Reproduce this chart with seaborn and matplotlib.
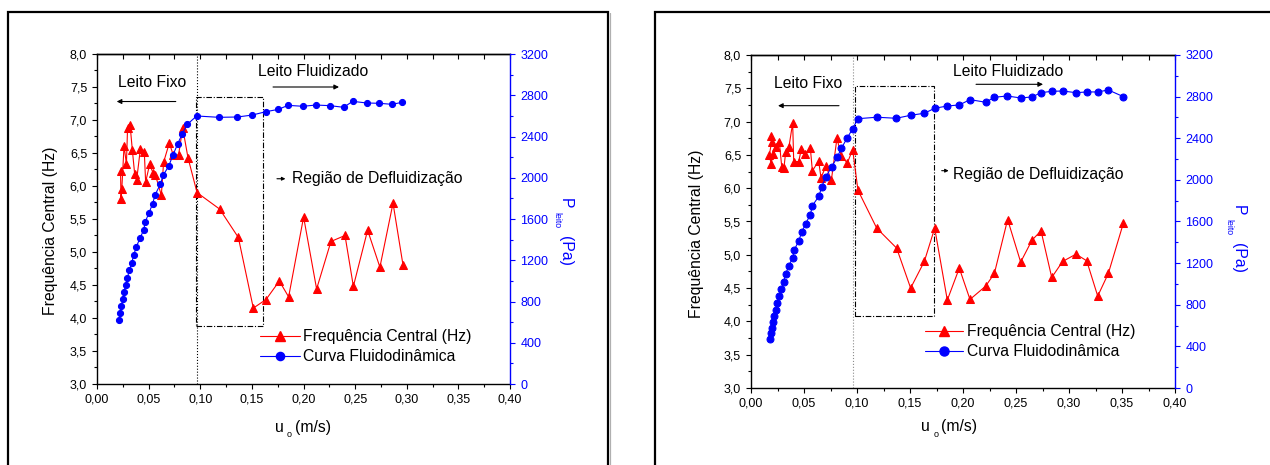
import numpy as np
import pandas as pd
import matplotlib
matplotlib.use("Agg")
import matplotlib.pyplot as plt
import seaborn as sns
from matplotlib.lines import Line2D
from matplotlib.patches import Rectangle
from matplotlib.ticker import MultipleLocator, FuncFormatter

sns.set_theme(style="ticks")
plt.rcParams["font.family"] = ["Liberation Sans", "DejaVu Sans"]
plt.rcParams["axes.edgecolor"] = "black"
plt.rcParams["xtick.color"] = "black"
plt.rcParams["ytick.color"] = "black"
plt.rcParams["text.color"] = "black"

# ---- run A: central frequency vs superficial velocity ----
uA_freq = [0.0228, 0.0232, 0.0240, 0.0262, 0.0285, 0.0296, 0.0320, 0.0342, 0.0365, 0.0384,
           0.0420, 0.0458, 0.0471, 0.0510, 0.0542, 0.0565, 0.0623, 0.0645, 0.0700, 0.0739,
           0.0790, 0.0830, 0.0881, 0.0969, 0.1188, 0.1369, 0.1514, 0.1637, 0.1766, 0.1856,
           0.2001, 0.2127, 0.2266, 0.2402, 0.2483, 0.2621, 0.2740, 0.2867, 0.2964]
fA = [6.23, 5.80, 5.95, 6.61, 6.33, 6.88, 6.93, 6.55, 6.18, 6.09,
      6.56, 6.52, 6.06, 6.33, 6.20, 6.17, 5.86, 6.36, 6.65, 6.47,
      6.47, 6.88, 6.43, 5.90, 5.65, 5.22, 4.15, 4.28, 4.56, 4.32,
      5.53, 4.44, 5.16, 5.25, 4.48, 5.33, 4.77, 5.74, 4.80]

# ---- run A: bed pressure drop ----
uA_press = [0.0216, 0.0226, 0.0236, 0.0249, 0.0259, 0.0278, 0.0294, 0.0313, 0.0336, 0.0355,
            0.0380, 0.0416, 0.0452, 0.0468, 0.0504, 0.0539, 0.0562, 0.0613, 0.0642, 0.0694,
            0.0736, 0.0781, 0.0826, 0.0875, 0.0965, 0.1181, 0.1359, 0.1504, 0.1633, 0.1756,
            0.1850, 0.1995, 0.2121, 0.2257, 0.2389, 0.2476, 0.2611, 0.2734, 0.2857, 0.2954]
pA = [623, 691, 759, 821, 889, 960, 1028, 1102, 1173, 1248,
      1328, 1413, 1493, 1574, 1661, 1748, 1833, 1936, 2027, 2111,
      2221, 2327, 2427, 2518, 2599, 2586, 2589, 2608, 2640, 2663,
      2702, 2693, 2705, 2699, 2683, 2741, 2725, 2722, 2712, 2731]

# ---- run B: central frequency ----
uB_freq = [0.0186, 0.0195, 0.0173, 0.0189, 0.0210, 0.0233, 0.0267, 0.0290, 0.0311, 0.0327,
           0.0358, 0.0393, 0.0403, 0.0450, 0.0475, 0.0513, 0.0560, 0.0579, 0.0638, 0.0660,
           0.0708, 0.0758, 0.0811, 0.0852, 0.0909, 0.0959, 0.1009, 0.1186, 0.1374, 0.1506,
           0.1635, 0.1733, 0.1852, 0.1965, 0.2066, 0.2214, 0.2296, 0.2421, 0.2544, 0.2651,
           0.2736, 0.2837, 0.2940, 0.3066, 0.3167, 0.3271, 0.3371, 0.3512]
fB = [6.78, 6.70, 6.50, 6.37, 6.52, 6.62, 6.70, 6.32, 6.31, 6.54,
      6.62, 6.98, 6.40, 6.40, 6.59, 6.52, 6.60, 6.26, 6.41, 6.16,
      6.33, 6.12, 6.75, 6.48, 6.38, 6.58, 5.97, 5.40, 5.10, 4.50,
      4.90, 5.40, 4.32, 4.80, 4.33, 4.53, 4.72, 5.53, 4.89, 5.22,
      5.36, 4.66, 4.90, 5.01, 4.91, 4.38, 4.72, 5.47]

# ---- run B: bed pressure drop ----
uB_press = [0.0176, 0.0189, 0.0195, 0.0208, 0.0214, 0.0236, 0.0248, 0.0267, 0.0286, 0.0308,
            0.0327, 0.0358, 0.0393, 0.0409, 0.0450, 0.0478, 0.0516, 0.0560, 0.0579, 0.0642,
            0.0667, 0.0708, 0.0761, 0.0814, 0.0852, 0.0909, 0.0959, 0.1009, 0.1186, 0.1371,
            0.1507, 0.1635, 0.1733, 0.1852, 0.1965, 0.2066, 0.2214, 0.2296, 0.2418, 0.2544,
            0.2651, 0.2736, 0.2837, 0.2940, 0.3066, 0.3170, 0.3271, 0.3371, 0.3512]
pB = [471, 525, 580, 634, 689, 750, 820, 884, 954, 1022,
      1096, 1176, 1252, 1329, 1413, 1496, 1580, 1666, 1752, 1845,
      1935, 2031, 2127, 2217, 2303, 2405, 2492, 2588, 2602, 2592,
      2621, 2640, 2688, 2710, 2720, 2771, 2746, 2794, 2806, 2787,
      2797, 2838, 2851, 2854, 2838, 2845, 2845, 2864, 2800]

legend_labels = ["Frequência Central (Hz)", "Curva Fluidodinâmica"]

W, H = 1270, 465
fig = plt.figure(figsize=(W / 100, H / 100), dpi=100)
FS = 11.3
TFS = 9.0
BLUE = "#0000ff"
RED = "#ff0000"


def px(x, y):
    return x / W, 1 - y / H


def comma(fmt):
    return FuncFormatter(lambda v, _: fmt.format(v).replace(".", ","))


def panel(rect, u_f, f, u_p, p, cfg):
    ax = fig.add_axes(rect)
    ax2 = ax.twinx()

    sns.lineplot(x=u_f, y=f, ax=ax, sort=False, color=RED, marker="^",
                 markersize=cfg["tri"], markeredgecolor=RED, linewidth=0.8,
                 legend=False)
    sns.lineplot(x=u_p, y=p, ax=ax2, sort=False, color=BLUE, marker="o",
                 markersize=cfg["circ"], markeredgecolor=BLUE, linewidth=0.8,
                 legend=False)

    ax.set_xlim(0, 0.40)
    ax.set_ylim(3.0, 8.0)
    ax2.set_ylim(0, 3200)
    ax.set_xlabel("")
    ax.set_ylabel("")
    ax2.set_ylabel("")

    ax.xaxis.set_major_locator(MultipleLocator(0.05))
    ax.xaxis.set_minor_locator(MultipleLocator(0.025))
    ax.yaxis.set_major_locator(MultipleLocator(0.5))
    ax.yaxis.set_minor_locator(MultipleLocator(0.25))
    ax2.yaxis.set_major_locator(MultipleLocator(400))
    ax2.yaxis.set_minor_locator(MultipleLocator(200))
    ax.xaxis.set_major_formatter(comma("{:.2f}"))
    ax.yaxis.set_major_formatter(comma("{:.1f}"))

    ax.tick_params(axis="both", which="major", direction="out", length=3.6,
                   width=0.8, labelsize=TFS, pad=3.5, colors="black")
    ax.tick_params(axis="both", which="minor", direction="out", length=2.0,
                   width=0.8)
    ax.tick_params(axis="y", which="both", right=False)
    ax.tick_params(axis="x", which="both", top=False)
    ax2.tick_params(axis="y", which="major", direction="out", length=3.6,
                    width=0.8, labelsize=TFS, pad=4, colors=BLUE)
    ax2.tick_params(axis="y", which="minor", direction="out", length=2.0,
                    width=0.8, colors=BLUE)

    top = ax.secondary_xaxis("top")
    top.set_xticks(np.arange(0.0, 0.4001, 0.025))
    top.tick_params(direction="in", length=3.6, width=0.8, labeltop=False)
    top.spines["top"].set_linewidth(1.0)

    for s in ("left", "bottom", "top"):
        ax.spines[s].set_color("black")
        ax.spines[s].set_linewidth(1.0)
        ax.spines[s].set_visible(True)
    ax.spines["right"].set_visible(False)
    for s in ("left", "bottom", "top"):
        ax2.spines[s].set_visible(False)
    ax2.spines["right"].set_visible(True)
    ax2.spines["right"].set_color(BLUE)
    ax2.spines["right"].set_linewidth(1.0)

    # boundary between fixed and fluidised bed
    ax.axvline(cfg["umf"], color=cfg["vcol"], ls=":", lw=0.8, zorder=1)

    # defluidisation window
    x0, x1, y0, y1 = cfg["box"]
    r = Rectangle((x0, y0), x1 - x0, y1 - y0, fill=False, ec="black", lw=0.8,
                  zorder=1)
    r.set_linestyle((0, (5, 1.6, 1, 1.6)))
    ax.add_patch(r)

    # region labels and arrows
    arrow = dict(arrowstyle="-|>", color="black", lw=0.8, mutation_scale=7,
                 shrinkA=0, shrinkB=0)
    tx, ty = cfg["fixo"]
    ax.text(tx, ty, "Leito Fixo", fontsize=FS, ha="left", va="baseline")
    (a0, a1, ay) = cfg["fixo_arrow"]
    ax.annotate("", xy=(a1, ay), xytext=(a0, ay), arrowprops=arrow)
    tx, ty = cfg["flui"]
    ax.text(tx, ty, "Leito Fluidizado", fontsize=FS, ha="left", va="baseline")
    (a0, a1, ay) = cfg["flui_arrow"]
    ax.annotate("", xy=(a1, ay), xytext=(a0, ay), arrowprops=arrow)
    tx, ty = cfg["defl"]
    ax.text(tx, ty, "Região de Defluidização", fontsize=FS, ha="left",
            va="baseline")
    (a0, a1, ay) = cfg["defl_arrow"]
    ax.annotate("", xy=(a1, ay), xytext=(a0, ay),
                arrowprops=dict(arrow, mutation_scale=5))

    handles = [
        Line2D([], [], color=RED, marker="^", markersize=cfg["tri"] + 1,
               lw=0.8),
        Line2D([], [], color=BLUE, marker="o", markersize=cfg["circ"] + 1.5,
               lw=0.8),
    ]
    ax2.legend(handles, legend_labels, loc="center left",
               bbox_to_anchor=cfg["leg"], frameon=False, fontsize=FS,
               handlelength=cfg["hl"], handletextpad=cfg["htp"],
               labelspacing=0.32, borderpad=0, borderaxespad=0)

    # axis titles
    lx, ly = cfg["ylab"]
    fig.text(*px(lx, ly), "Frequência Central (Hz)", fontsize=FS,
             rotation=90, rotation_mode="anchor", ha="center", va="baseline")
    ux, uy = cfg["xlab"]
    fig.text(*px(ux, uy), "u", fontsize=FS, ha="left", va="baseline")
    fig.text(*px(ux + 12, uy + 5.5), "o", fontsize=6.5, ha="left",
             va="baseline")
    fig.text(*px(ux + 20, uy), "(m/s)", fontsize=FS, ha="left", va="baseline")
    rx, ry = cfg["rlab"]
    for dx, dy, s, size in ((0, 0, "P", FS), (-7, 14, "leito", 6.3),
                            (0, 38, "(Pa)", FS)):
        fig.text(*px(rx + dx, ry + dy), s, fontsize=size, color=BLUE,
                 rotation=-90, rotation_mode="anchor", ha="left",
                 va="baseline")
    return ax, ax2


cfgA = dict(
    tri=6, circ=4.4, umf=0.0965, vcol="black",
    box=(0.0956, 0.161, 3.879, 7.353),
    fixo=(0.0203, 7.495), fixo_arrow=(0.0763, 0.0191, 7.28),
    flui=(0.1556, 7.671), flui_arrow=(0.1705, 0.2344, 7.50),
    defl=(0.1889, 6.041), defl_arrow=(0.1743, 0.1825, 6.11),
    leg=(0.3947, 0.1136), hl=2.55, htp=0.2,
    ylab=(54.5, 230.5), xlab=(275, 431.5), rlab=(561, 198),
)
cfgB = dict(
    tri=6, circ=5.0, umf=0.0959, vcol="#8c8c8c",
    box=(0.0984, 0.1726, 4.081, 7.535),
    fixo=(0.0217, 7.50), fixo_arrow=(0.0830, 0.0255, 7.239),
    flui=(0.1906, 7.685), flui_arrow=(0.2123, 0.2755, 7.56),
    defl=(0.1906, 6.134), defl_arrow=(0.1799, 0.1865, 6.263),
    leg=(0.4104, 0.1396), hl=2.42, htp=0.25,
    ylab=(701, 234), xlab=(921.5, 431), rlab=(1233.5, 205),
)

panel([97 / W, 81 / H, 413 / W, 330 / H], uA_freq, fA, uA_press, pA, cfgA)
panel([751 / W, 77 / H, 424 / W, 333 / H], uB_freq, fB, uB_press, pB, cfgB)

# frames around each graph
for x0, x1 in ((8, 608), (655, 1290)):
    fig.patches.append(Rectangle(px(x0, 500), (x1 - x0) / W, 488 / H,
                                 transform=fig.transFigure, fill=False,
                                 ec="black", lw=1.6, clip_on=False))
fig.patches.append(Rectangle(px(609.5, 500), 0.6 / W, 487 / H,
                             transform=fig.transFigure, fill=False,
                             ec="#b0b0b0", lw=0.8, clip_on=False))

fig.savefig("out.png", dpi=100)
